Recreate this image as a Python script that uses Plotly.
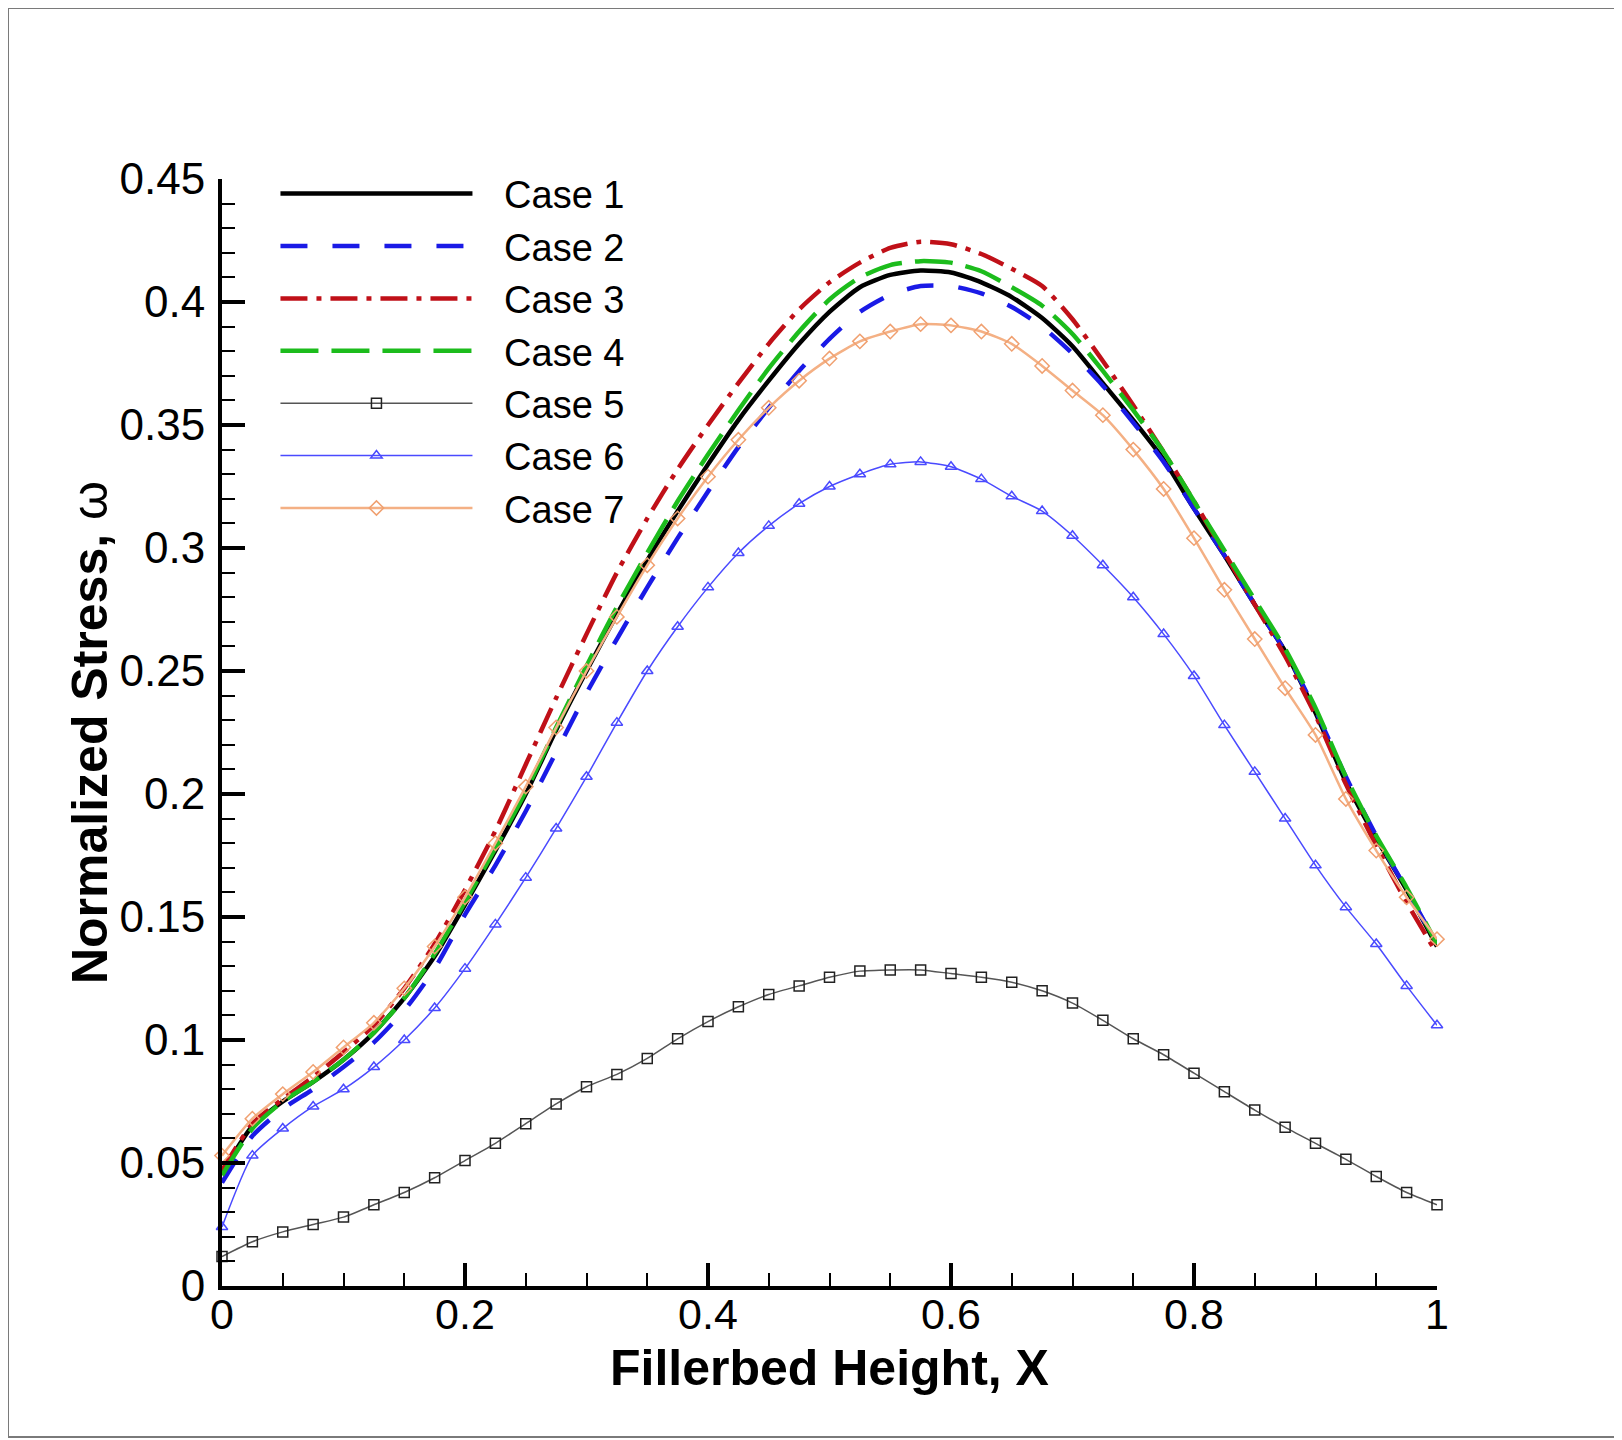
import plotly.graph_objects as go

# fillerbed height, sampled every 0.025
x = [0.0, 0.025, 0.05, 0.075, 0.1, 0.125, 0.15, 0.175, 0.2, 0.225, 0.25, 0.275, 0.3, 0.325,
     0.35, 0.375, 0.4, 0.425, 0.45, 0.475, 0.5, 0.525, 0.55, 0.575, 0.6, 0.625, 0.65, 0.675,
     0.7, 0.725, 0.75, 0.775, 0.8, 0.825, 0.85, 0.875, 0.9, 0.925, 0.95, 0.975, 1.0]

case1 = [0.046, 0.065, 0.075, 0.083, 0.092, 0.103, 0.117, 0.134, 0.155, 0.177, 0.2, 0.226, 0.25,
         0.273, 0.295, 0.315, 0.334, 0.352, 0.368, 0.383, 0.396, 0.406, 0.411, 0.4128, 0.412,
         0.408, 0.402, 0.3935, 0.382, 0.367, 0.352, 0.336, 0.316, 0.297, 0.277, 0.258, 0.233,
         0.205, 0.182, 0.161, 0.138]
case2 = [0.042, 0.061, 0.072, 0.08, 0.089, 0.099, 0.112, 0.129, 0.151, 0.171, 0.193, 0.217, 0.241,
         0.263, 0.284, 0.304, 0.323, 0.341, 0.357, 0.372, 0.385, 0.396, 0.403, 0.4065, 0.4065,
         0.4035, 0.398, 0.39, 0.379, 0.366, 0.351, 0.335, 0.316, 0.297, 0.277, 0.258, 0.234,
         0.207, 0.183, 0.161, 0.139]
case3 = [0.047, 0.066, 0.076, 0.085, 0.095, 0.106, 0.121, 0.139, 0.161, 0.185, 0.212, 0.239, 0.265,
         0.29, 0.312, 0.332, 0.35, 0.367, 0.383, 0.397, 0.408, 0.416, 0.422, 0.4245, 0.4235,
         0.4195, 0.4135, 0.4065, 0.393, 0.376, 0.358, 0.339, 0.319, 0.298, 0.277, 0.256, 0.232,
         0.204, 0.179, 0.156, 0.135]
case4 = [0.045, 0.064, 0.075, 0.083, 0.092, 0.103, 0.117, 0.135, 0.156, 0.178, 0.201, 0.227, 0.252,
         0.276, 0.298, 0.319, 0.338, 0.356, 0.373, 0.388, 0.401, 0.41, 0.415, 0.4166, 0.416,
         0.4125, 0.406, 0.3985, 0.387, 0.372, 0.356, 0.339, 0.319, 0.299, 0.279, 0.259, 0.235,
         0.207, 0.183, 0.162, 0.139]
case5 = [0.012, 0.018, 0.022, 0.025, 0.028, 0.033, 0.038, 0.044, 0.051, 0.058, 0.066, 0.074, 0.081,
         0.086, 0.0925, 0.1005, 0.1075, 0.1135, 0.1185, 0.122, 0.1255, 0.128, 0.1285, 0.1285,
         0.127, 0.1255, 0.1235, 0.12, 0.115, 0.108, 0.1005, 0.094, 0.0865, 0.079, 0.0715, 0.0645,
         0.058, 0.0515, 0.0445, 0.038, 0.033]
case6 = [0.024, 0.053, 0.064, 0.073, 0.08, 0.089, 0.1, 0.113, 0.129, 0.147, 0.166, 0.186, 0.207,
         0.229, 0.25, 0.268, 0.284, 0.298, 0.309, 0.318, 0.325, 0.33, 0.334, 0.335, 0.333, 0.328,
         0.321, 0.315, 0.305, 0.293, 0.28, 0.265, 0.248, 0.228, 0.209, 0.19, 0.171, 0.154, 0.139,
         0.122, 0.106]
case7 = [0.053, 0.068, 0.078, 0.087, 0.097, 0.107, 0.121, 0.138, 0.158, 0.18, 0.203, 0.227, 0.25,
         0.272, 0.293, 0.312, 0.329, 0.344, 0.357, 0.368, 0.377, 0.384, 0.388, 0.391, 0.3905,
         0.388, 0.383, 0.374, 0.364, 0.354, 0.34, 0.324, 0.304, 0.283, 0.263, 0.243, 0.224,
         0.198, 0.177, 0.158, 0.141]

names = ["Case 1", "Case 2", "Case 3", "Case 4", "Case 5", "Case 6", "Case 7"]
x_title = "Fillerbed Height, X"
y_title = "Normalized Stress, "

font = "Liberation Sans, Arial, sans-serif"
gap = "\u2002\u2009"  # push legend text away from the sample lines

fig = go.Figure()

# plain line cases
fig.add_trace(go.Scatter(x=x, y=case1, name=gap + names[0], mode="lines",
                         line=dict(color="black", width=4.5, shape="spline", smoothing=0.6)))
fig.add_trace(go.Scatter(x=x, y=case2, name=gap + names[1], mode="lines",
                         line=dict(color="#1a1ae6", width=4.5, dash="27px,25px",
                                   shape="spline", smoothing=0.6)))
fig.add_trace(go.Scatter(x=x, y=case3, name=gap + names[2], mode="lines",
                         line=dict(color="#c01018", width=4.5, dash="27px,9px,5px,9px",
                                   shape="spline", smoothing=0.6)))
fig.add_trace(go.Scatter(x=x, y=case4, name=gap + names[3], mode="lines",
                         line=dict(color="#1cbc1c", width=4.5, dash="38px,13px",
                                   shape="spline", smoothing=0.6)))

# symbol cases
fig.add_trace(go.Scatter(x=x, y=case5, name=gap + names[4], mode="lines+markers",
                         line=dict(color="#555555", width=1.5, shape="spline", smoothing=0.6),
                         marker=dict(symbol="square-open", size=10, color="#222222",
                                     line=dict(width=1.5))))
fig.add_trace(go.Scatter(x=x, y=case6, name=gap + names[5], mode="lines+markers",
                         line=dict(color="#4a4aff", width=1.5, shape="spline", smoothing=0.6),
                         marker=dict(symbol="triangle-up-open", size=10, color="#4a4aff",
                                     line=dict(width=1.5))))
fig.add_trace(go.Scatter(x=x, y=case7, name=gap + names[6], mode="lines+markers",
                         line=dict(color="#f4b084", width=2.5, shape="spline", smoothing=0.6),
                         marker=dict(symbol="diamond-open", size=11, color="#f0a070",
                                     line=dict(width=1.5))))

fig.update_traces(cliponaxis=False)

fig.update_layout(
    width=1622, height=1440,
    margin=dict(l=214, r=193, t=171, b=162),
    paper_bgcolor="white", plot_bgcolor="white",
    font=dict(family=font, size=40, color="black"),
    showlegend=True,
    legend=dict(x=0.044, y=1.015, xanchor="left", yanchor="top",
                bgcolor="rgba(0,0,0,0)", itemwidth=192,
                font=dict(family=font, size=38, color="black")),
    shapes=[dict(type="rect", xref="paper", yref="paper",
                 x0=-214 / 1215, x1=1398 / 1215, y0=-151 / 1107, y1=1278 / 1107,
                 line=dict(color="#7a7a7a", width=2), layer="below")],
    annotations=[
        dict(text="<b>" + x_title + "</b>", xref="paper", yref="paper", x=0.5, y=-0.0745,
             xanchor="center", yanchor="middle", showarrow=False,
             font=dict(family=font, size=50, color="black")),
        dict(text="<b>" + y_title + "</b>ω", xref="paper", yref="paper", x=-0.109, y=0.5,
             xanchor="center", yanchor="middle", textangle=-90, showarrow=False,
             font=dict(family=font, size=50, color="black")),
    ],
)

fig.update_xaxes(
    range=[0, 1], dtick=0.2, tick0=0,
    showline=True, linewidth=4, linecolor="black", mirror=False,
    showgrid=False, zeroline=False,
    ticks="inside", ticklen=23, tickwidth=3.5, tickcolor="black",
    minor=dict(dtick=0.05, ticks="inside", ticklen=13, tickwidth=1.8, tickcolor="black"),
    tickfont=dict(family=font, size=43), ticklabelstandoff=-13,
)
fig.update_yaxes(
    range=[0, 0.45], dtick=0.05, tick0=0,
    showline=True, linewidth=4, linecolor="black", mirror=False,
    showgrid=False, zeroline=False,
    ticks="inside", ticklen=23, tickwidth=3.5, tickcolor="black",
    minor=dict(dtick=0.01, ticks="inside", ticklen=13, tickwidth=1.8, tickcolor="black"),
    tickfont=dict(family=font, size=44), ticklabelstandoff=4,
)

fig.write_html("out.html")
